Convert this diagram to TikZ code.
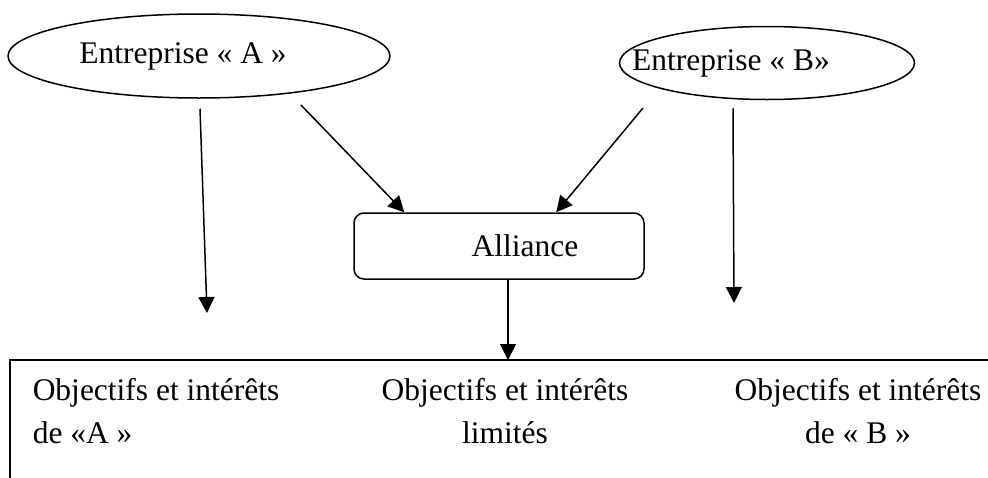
\documentclass[tikz,border=0pt]{standalone}
\usepackage{fontspec}
\setmainfont{Liberation Serif}
\usetikzlibrary{shapes}
\usetikzlibrary{arrows.meta}

\begin{document}
\begin{tikzpicture}[x=1pt,y=-1pt,
            font=\fontsize{31.5}{43}\selectfont,
            line width=1.5pt,
            ent/.style = {draw,ellipse,inner sep=0pt},
            box/.style = {draw,rounded corners=10pt,inner sep=0pt,
                minimum width=290pt,minimum height=66pt},
            txt/.style = {inner sep=0pt,anchor=north},
            arr/.style = {-{Triangle[length=16pt,width=16pt]}}]
            \useasboundingbox (0,0) rectangle (988,477);
            \node[ent,minimum width=382pt,minimum height=84pt](entA) at (199,56) {\hspace*{-32pt}Entreprise « A »};
            \node[ent,minimum width=295pt,minimum height=73pt](entB) at (767,63) {\hspace*{-72pt}Entreprise « B»};
            \node[box](alli) at (499,246) {Alliance\hspace*{-52pt}};
            \coordinate (endA) at (207,313);
            \coordinate (endB) at (734,303);
            \coordinate (endL) at (508,360);
            \coordinate (frameB) at (10,480);
            \coordinate (frameR) at (990,360);
            \draw[arr] ([shift={(1,10)}]entA.south) -- (endA);
            \draw[arr] ([shift={(102,49)}]entA.center) -- ([shift={(51,0)}]alli.north west);
            \draw[arr] ([shift={(-124,45)}]entB.center) -- ([shift={(203,0)}]alli.north west);
            \draw[arr] ([shift={(-34,8)}]entB.south) -- (endB);
            \draw[arr] ([shift={(9,0)}]alli.south) -- (endL);
            \draw (frameB) |- (frameR);
            \node[txt,anchor=north west,align=left](objA) at (32,378) {Objectifs et intérêts\\de «A »};
            \node[txt,align=center](objL) at (505,378) {Objectifs et intérêts\\limités};
            \node[txt,align=center](objB) at (858,378) {Objectifs et intérêts\\de « B »};
        \end{tikzpicture}
\end{document}
